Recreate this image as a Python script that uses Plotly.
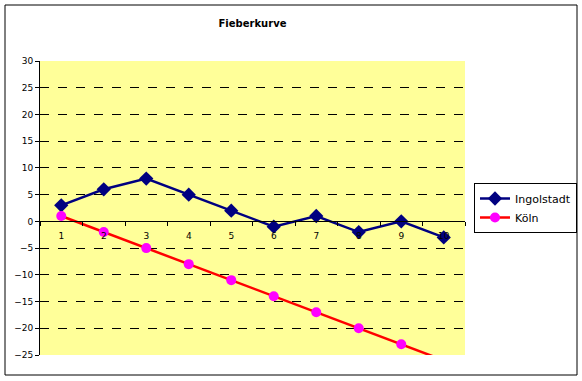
import plotly.graph_objects as go

categories = [1, 2, 3, 4, 5, 6, 7, 8, 9, 10]
ingolstadt = [3, 6, 8, 5, 2, -1, 1, -2, 0, -3]
koeln = [1, -2, -5, -8, -11, -14, -17, -20, -23, -26]
y_ticks = [30, 25, 20, 15, 10, 5, 0, -5, -10, -15, -20, -25]
cat_bounds = [c + 0.5 for c in [0] + categories]

fig = go.Figure()
fig.add_trace(go.Scatter(
    x=categories, y=ingolstadt, name="Ingolstadt", mode="lines+markers",
    line=dict(color="#000080", width=2.5),
    marker=dict(symbol="diamond", size=11, color="#000080"),
))
fig.add_trace(go.Scatter(
    x=categories, y=koeln, name="Köln", mode="lines+markers",
    line=dict(color="#FF0000", width=2.5),
    marker=dict(symbol="circle", size=10, color="#FF00FF"),
))

W, H = 582, 381
L, R, T, B = 40, 117, 61, 26
pw, ph = W - L - R, H - T - B

def px(x):
    return (x - L) / pw

def py(y):
    return (H - B - y) / ph

zero_pos = (0 - (-25)) / 55

fig.update_layout(
    width=W, height=H,
    margin=dict(l=L, r=R, t=T, b=B, autoexpand=False),
    paper_bgcolor="white",
    plot_bgcolor="#FFFF99",
    font=dict(family="DejaVu Sans, Verdana, sans-serif", size=9, color="black"),
    title=dict(text="<b>Fieberkurve</b>", x=0.5, xref="paper", xanchor="center",
               y=1 - 23 / H, yanchor="middle", font=dict(size=10), automargin=False),
    showlegend=True,
    legend=dict(x=px(474), y=0.5, xanchor="left", yanchor="middle",
                bordercolor="black", borderwidth=1, bgcolor="white",
                font=dict(size=11, family="DejaVu Sans, Verdana, sans-serif"),
                tracegroupgap=0, itemwidth=30),
    xaxis=dict(
        range=[0.5, 10.5], tickvals=categories, ticktext=[str(c) for c in categories],
        anchor="free", position=zero_pos, showline=True, linecolor="black", linewidth=1,
        ticks="", showgrid=False, zeroline=False, ticklabelstandoff=6, automargin=False,
        minor=dict(tickvals=cat_bounds, ticks="outside", ticklen=4, tickcolor="black", showgrid=False),
    ),
    yaxis=dict(
        range=[-25, 30], tickvals=y_ticks, showline=True, linecolor="black", linewidth=1,
        ticks="outside", ticklen=4, tickcolor="black", automargin=False,
        showgrid=True, gridcolor="black", griddash="dash", gridwidth=1,
        zeroline=False,
    ),
    shapes=[dict(type="rect", xref="paper", yref="paper",
                 x0=px(5), x1=px(577), y0=py(375), y1=py(5),
                 line=dict(color="black", width=1), fillcolor="rgba(0,0,0,0)", layer="below")],
)

fig.write_html("out.html", config={"displayModeBar": False},
               post_script="document.body.style.margin='0';document.body.style.overflow='hidden';")
